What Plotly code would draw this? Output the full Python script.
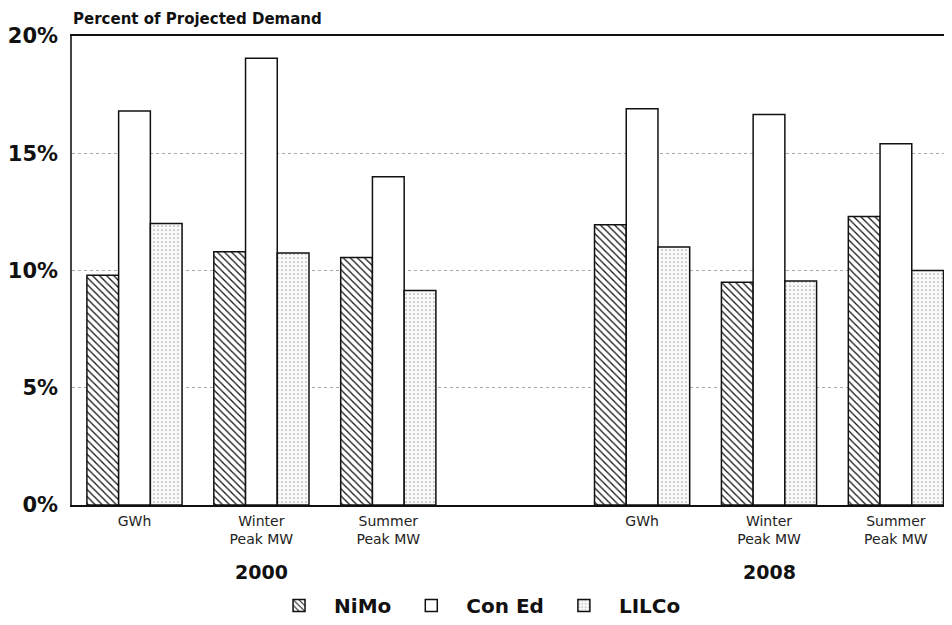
import plotly.graph_objects as go

# Data
tick_positions = [0, 1, 2, 4, 5, 6]
tick_labels = ["GWh", "Winter<br>Peak MW", "Summer<br>Peak MW",
               "GWh", "Winter<br>Peak MW", "Summer<br>Peak MW"]
year_labels = ["2000", "2008"]
year_positions = [1, 5]
y_tick_values = [0, 5, 10, 15, 20]
y_tick_labels = ["0%", "5%", "10%", "15%", "20%"]

nimo = [9.8, 10.8, 10.55, 11.95, 9.5, 12.3]
con_ed = [16.8, 19.05, 14.0, 16.9, 16.65, 15.4]
lilco = [12.0, 10.75, 9.15, 11.0, 9.55, 10.0]

series_names = ["NiMo", "Con Ed", "LILCo"]

FONT = "DejaVu Sans"

fig = go.Figure()

fig.add_trace(go.Bar(
    name=series_names[0], x=tick_positions, y=nimo,
    marker=dict(color="white",
                line=dict(color="#111", width=1.5),
                pattern=dict(shape="\\", fgcolor="#111", bgcolor="white",
                             size=5, solidity=0.25, fillmode="replace")),
))
fig.add_trace(go.Bar(
    name=series_names[1], x=tick_positions, y=con_ed,
    marker=dict(color="white", line=dict(color="#111", width=1.5)),
))
fig.add_trace(go.Bar(
    name=series_names[2], x=tick_positions, y=lilco,
    marker=dict(color="white",
                line=dict(color="#111", width=1.5),
                pattern=dict(shape=".", fgcolor="#aaa", bgcolor="#f9f9f9",
                             size=4, solidity=0.15, fillmode="replace")),
))

for yr, pos in zip(year_labels, year_positions):
    fig.add_annotation(x=pos, xref="x", y=-0.143, yref="paper",
                       text=yr, showarrow=False, yanchor="middle",
                       font=dict(family=FONT, size=19, color="#111", weight="bold"))

fig.add_annotation(x=0, xref="paper", xanchor="left", y=1, yref="paper",
                   yanchor="bottom", yshift=7, borderpad=0, showarrow=False,
                   text="Percent of Projected Demand",
                   font=dict(family=FONT, size=15, color="#111", weight="bold"))

fig.update_layout(
    width=944, height=617,
    margin=dict(l=64, r=0, t=28, b=120),
    paper_bgcolor="white", plot_bgcolor="white",
    barmode="group", bargap=0.25, bargroupgap=0,
    showlegend=True,
    legend=dict(orientation="h", x=0.458, xanchor="center", y=-0.215, yanchor="middle",
                font=dict(family=FONT, size=20, color="#111", weight="bold"),
                itemwidth=60, traceorder="normal"),
    xaxis=dict(range=[-0.4925, 6.442], tickmode="array",
               tickvals=tick_positions, ticktext=tick_labels,
               tickfont=dict(family=FONT, size=14, color="#222"),
               showgrid=False, zeroline=False,
               showline=True, mirror=True, linecolor="#111", linewidth=1.5,
               ticks="", ticklabelstandoff=2),
    yaxis=dict(range=[0, 20], tickmode="array", tickvals=y_tick_values,
               ticktext=y_tick_labels,
               tickfont=dict(family=FONT, size=21, color="#111", weight="bold"),
               showgrid=True, gridcolor="#aaa", griddash="dot", gridwidth=1,
               zeroline=False, showline=True, linecolor="#444", linewidth=1.5,
               ticks="", ticklabelstandoff=8),
)

fig.write_html("out.html")
